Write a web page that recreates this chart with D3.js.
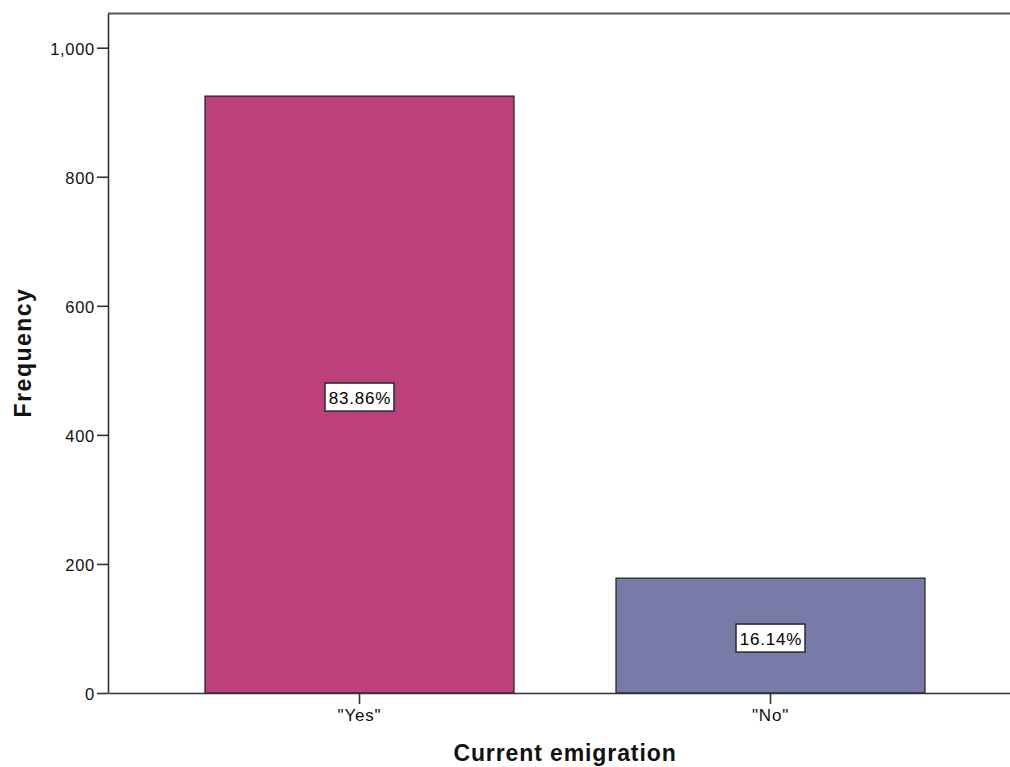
<!DOCTYPE html>
<html>
<head>
<meta charset="utf-8">
<script src="https://cdn.jsdelivr.net/npm/d3@7"></script>
<style>
  html, body { margin: 0; padding: 0; background: #ffffff; }
  svg { display: block; }
</style>
</head>
<body>
<svg id="chart" width="1010" height="767"></svg>
<script>
const categories = ['"Yes"', '"No"'];
const frequencies = [925, 178];
const percentLabels = ["83.86%", "16.14%"];
const barColors = ["#bb407c", "#787aa8"];
const yTickValues = [0, 200, 400, 600, 800, 1000];
const xTitle = "Current emigration";
const yTitle = "Frequency";

(function () {
const svg = d3.select("#chart");
const W = 1010, H = 767;
const mLeft = 108, mRight = 1022, mTop = 13.5, mBottom = 693;

svg.append("rect").attr("width", W).attr("height", H).attr("fill", "#fff");

const x = d3.scaleBand().domain(categories).range([mLeft, mRight])
  .paddingInner(0.2482).paddingOuter(0.236);
const y = d3.scaleLinear().domain([0, 1053]).range([mBottom, mTop]);

// frame top line
svg.append("line")
  .attr("x1", mLeft).attr("x2", mRight)
  .attr("y1", mTop).attr("y2", mTop)
  .attr("stroke", "#555").attr("stroke-width", 2);

// bars
const data = categories.map((c, i) => ({ c, v: frequencies[i], p: percentLabels[i], col: barColors[i] }));
svg.append("g").selectAll("rect").data(data).join("rect")
  .attr("x", d => x(d.c))
  .attr("y", d => y(d.v))
  .attr("width", x.bandwidth())
  .attr("height", d => y(0) - y(d.v))
  .attr("fill", d => d.col)
  .attr("stroke", "#1e1e1e")
  .attr("stroke-width", 1.2);

// percent labels
const lab = svg.append("g").selectAll("g").data(data).join("g")
  .attr("transform", d => `translate(${x(d.c) + x.bandwidth() / 2},${(y(d.v) + y(0)) / 2 + 2.5})`);
lab.append("rect")
  .attr("x", -34.5).attr("y", -14).attr("width", 69).attr("height", 28)
  .attr("fill", "#fff").attr("stroke", "#2a2a2a").attr("stroke-width", 1.5);
lab.append("text")
  .attr("x", 0.4).attr("y", 6.5)
  .attr("text-anchor", "middle")
  .attr("font-family", "Liberation Sans, Arial, sans-serif")
  .attr("font-size", 17)
  .attr("letter-spacing", "0.8px")
  .attr("fill", "#000")
  .text(d => d.p);

// y axis
const yAxis = svg.append("g").attr("transform", `translate(${mLeft},0)`)
  .call(d3.axisLeft(y).tickValues(yTickValues).tickSize(11).tickSizeOuter(0).tickFormat(d3.format(",")));
yAxis.select(".domain").attr("stroke", "#333").attr("stroke-width", 1.6);
yAxis.selectAll(".tick line").attr("stroke", "#333").attr("stroke-width", 1.6);
yAxis.selectAll(".tick text")
  .attr("x", -13).attr("dy", "0.4em")
  .attr("font-family", "Liberation Sans, Arial, sans-serif")
  .attr("font-size", 16.5).attr("letter-spacing", "0.7px")
  .attr("fill", "#111");

// x axis
const xAxis = svg.append("g").attr("transform", `translate(0,${mBottom})`)
  .call(d3.axisBottom(x).tickSize(11).tickSizeOuter(0));
xAxis.select(".domain").attr("stroke", "#333").attr("stroke-width", 1.6);
xAxis.selectAll(".tick line").attr("stroke", "#333").attr("stroke-width", 1.6);
xAxis.selectAll(".tick text")
  .attr("y", 16).attr("dy", "0.71em")
  .attr("font-family", "Liberation Sans, Arial, sans-serif")
  .attr("font-size", 17).attr("letter-spacing", "0.8px")
  .attr("fill", "#111");

// axis titles
svg.append("text")
  .attr("x", (mLeft + mRight) / 2).attr("y", 761)
  .attr("text-anchor", "middle")
  .attr("font-family", "Liberation Sans, Arial, sans-serif")
  .attr("font-weight", "bold").attr("font-size", 23)
  .attr("letter-spacing", "0.9px")
  .attr("fill", "#111")
  .text(xTitle);

svg.append("text")
  .attr("transform", `translate(31,352.5) rotate(-90)`)
  .attr("text-anchor", "middle")
  .attr("font-family", "Liberation Sans, Arial, sans-serif")
  .attr("font-weight", "bold").attr("font-size", 23)
  .attr("letter-spacing", "1.5px")
  .attr("fill", "#111")
  .text(yTitle);
})();
</script>
</body>
</html>
